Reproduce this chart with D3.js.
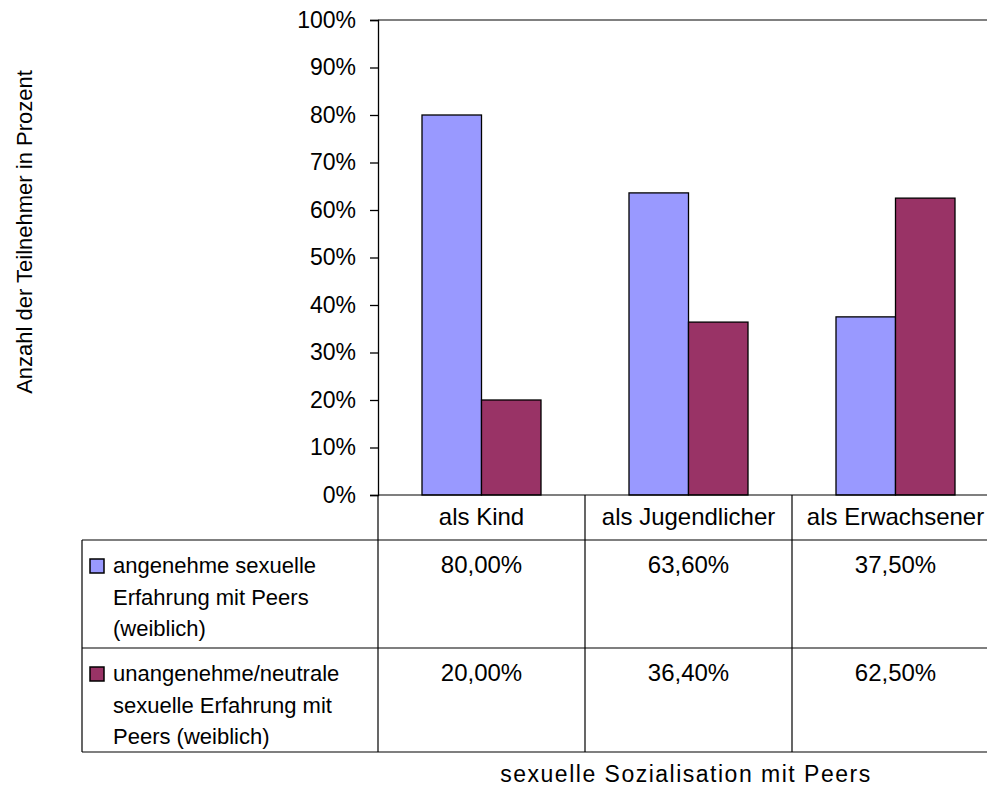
<!DOCTYPE html>
<html><head><meta charset="utf-8">
<script src="https://cdn.jsdelivr.net/npm/d3@7"></script>
<style>body{margin:0;background:#fff}svg{display:block}text{font-family:"Liberation Sans",Arial,sans-serif;fill:#000}</style>
</head><body>
<script>
const categories = ["als Kind", "als Jugendlicher", "als Erwachsener"];
const seriesNames = [
  ["angenehme sexuelle", "Erfahrung mit Peers", "(weiblich)"],
  ["unangenehme/neutrale", "sexuelle Erfahrung mit", "Peers (weiblich)"]
];
const seriesColors = ["#9999FF", "#993366"];
const pleasant = [80.0, 63.6, 37.5];
const unpleasant = [20.0, 36.4, 62.5];
const tableLabels = [["80,00%", "63,60%", "37,50%"], ["20,00%", "36,40%", "62,50%"]];
const yTicks = [0, 10, 20, 30, 40, 50, 60, 70, 80, 90, 100];
const yTitle = "Anzahl der Teilnehmer in Prozent";
const xTitle = "sexuelle Sozialisation mit Peers";

const W = 987, H = 790;
const svg = d3.select("body").append("svg").attr("width", W).attr("height", H);
const fs = 23;
const ff = '"Liberation Sans",Arial,sans-serif';

const x = d3.scaleBand().domain(categories).range([378, 999]).paddingInner(0).paddingOuter(0);
const y = d3.scaleLinear().domain([0, 100]).range([495, 20]);
const barW = 59.5;
const series = [pleasant, unpleasant];

// top border line
svg.append("line").attr("x1", 378).attr("x2", W).attr("y1", y(100)).attr("y2", y(100))
  .attr("stroke", "#808080").attr("stroke-width", 2);

// bars
series.forEach((vals, si) => {
  svg.append("g").selectAll("rect").data(categories).join("rect")
    .attr("x", d => x(d) + x.bandwidth() / 2 - barW + si * barW)
    .attr("y", (d, i) => y(vals[i]))
    .attr("width", barW)
    .attr("height", (d, i) => y(0) - y(vals[i]))
    .attr("fill", seriesColors[si])
    .attr("stroke", "#000").attr("stroke-width", 1.3);
});

// y axis
const yAxis = d3.axisLeft(y).tickValues(yTicks).tickFormat(d => d + "%").tickSize(8).tickPadding(14);
const gy = svg.append("g").attr("transform", "translate(378,0)").call(yAxis);
gy.select(".domain").attr("stroke", "#000").attr("stroke-width", 1.3);
gy.selectAll(".tick line").attr("stroke", "#000").attr("stroke-width", 1.3);
gy.selectAll(".tick text").attr("font-size", fs).attr("font-family", ff).attr("fill", "#000");

// table lines
const tl = svg.append("g").attr("stroke", "#000").attr("stroke-width", 1.2);
tl.append("line").attr("x1", 378).attr("x2", W).attr("y1", 495).attr("y2", 495);
tl.append("line").attr("x1", 82).attr("x2", W).attr("y1", 540).attr("y2", 540);
tl.append("line").attr("x1", 82).attr("x2", W).attr("y1", 648).attr("y2", 648);
tl.append("line").attr("x1", 82).attr("x2", W).attr("y1", 752).attr("y2", 752);
tl.append("line").attr("x1", 82).attr("x2", 82).attr("y1", 540).attr("y2", 752);
[378, ...categories.slice(1).map(c => x(c))].forEach(xx => {
  tl.append("line").attr("x1", xx).attr("x2", xx).attr("y1", 495).attr("y2", 752);
});

// category labels
svg.append("g").selectAll("text").data(categories).join("text")
  .attr("x", d => x(d) + x.bandwidth() / 2).attr("y", 525)
  .attr("text-anchor", "middle").attr("font-size", 24).text(d => d);

// table values
const rowTops = [540, 648];
tableLabels.forEach((row, ri) => {
  svg.append("g").selectAll("text").data(row).join("text")
    .attr("x", (d, i) => x(categories[i]) + x.bandwidth() / 2)
    .attr("y", rowTops[ri] + 33)
    .attr("text-anchor", "middle").attr("font-size", 24).text(d => d);
});

// legend cells
seriesNames.forEach((lines, si) => {
  const top = rowTops[si];
  svg.append("rect").attr("x", 90).attr("y", top + 19).attr("width", 14).attr("height", 14)
    .attr("fill", seriesColors[si]).attr("stroke", "#000").attr("stroke-width", 1.5);
  lines.forEach((ln, li) => {
    svg.append("text").attr("x", 113).attr("y", top + 33 + li * 31.5)
      .attr("font-size", 22).text(ln);
  });
});

// titles
svg.append("text").attr("x", 686).attr("y", 782).attr("text-anchor", "middle")
  .attr("font-size", fs).attr("letter-spacing", 1.5).text(xTitle);
svg.append("text").attr("transform", "translate(32,232) rotate(-90)")
  .attr("text-anchor", "middle").attr("font-size", 22).text(yTitle);
</script>
</body></html>
